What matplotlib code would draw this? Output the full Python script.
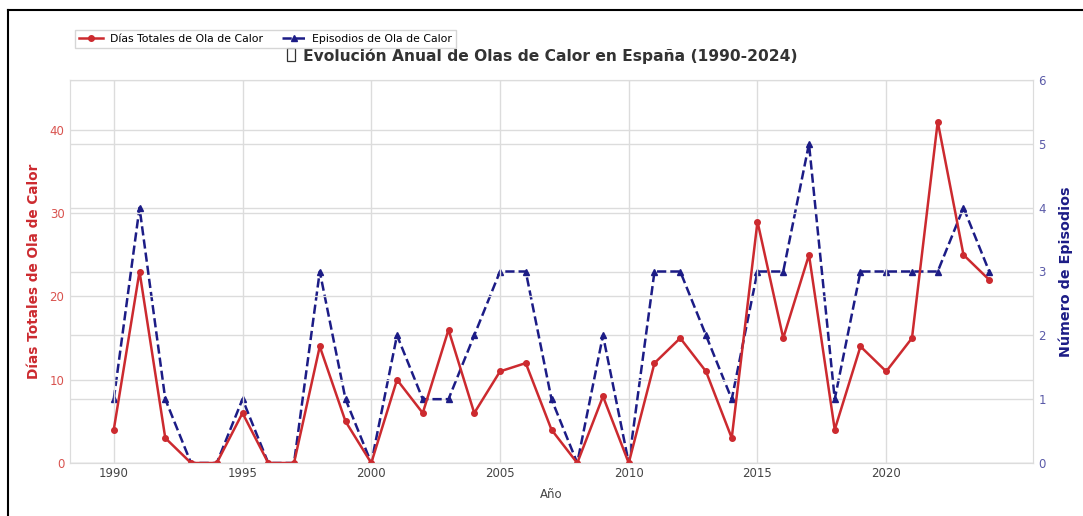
import matplotlib
matplotlib.use("Agg")
import matplotlib.pyplot as plt
from matplotlib.lines import Line2D
from matplotlib.patches import Rectangle

years = list(range(1990, 2025))
dias = [4, 23, 3, 0, 0, 6, 0, 0, 14, 5, 0, 10, 6, 16, 6, 11, 12, 4, 0, 8, 0,
        12, 15, 11, 3, 29, 15, 25, 4, 14, 11, 15, 41, 25, 22]
episodios = [1, 4, 1, 0, 0, 1, 0, 0, 3, 1, 0, 2, 1, 1, 2, 3, 3, 1, 0, 2, 0,
             3, 3, 2, 1, 3, 3, 5, 1, 3, 3, 3, 3, 4, 3]

RED = "#cc2a2f"
NAVY = "#1c1c86"
GRID = "#dcdcdc"

fig = plt.figure(figsize=(10.83, 5.16), dpi=100)
ax = fig.add_axes([70/1083, 1-463/516, (1033-70)/1083, (463-80)/516])
ax2 = ax.twinx()

ax.set_zorder(ax2.get_zorder() + 1)
ax.patch.set_visible(False)

l1, = ax.plot(years, dias, color=RED, lw=1.8, marker="o", markersize=4,
              label="Días Totales de Ola de Calor")
l2, = ax2.plot(years, episodios, color=NAVY, lw=1.8, ls="--", marker="^",
               markersize=4, label="Episodios de Ola de Calor")

ax.set_ylim(0, 46)
ax2.set_ylim(0, 6)
ax.set_xlim(1988.3, 2025.7)
ax.set_yticks([0, 10, 20, 30, 40])
ax2.set_yticks([0, 1, 2, 3, 4, 5, 6])
ax.set_xticks([1990, 1995, 2000, 2005, 2010, 2015, 2020])

for a in (ax, ax2):
    a.grid(True, color=GRID, lw=1)
    for s in a.spines.values():
        s.set_color(GRID)
    a.tick_params(length=0, labelsize=8.5)
ax.set_axisbelow(True)
ax2.set_axisbelow(True)
ax2.grid(False, axis="x")

ax.tick_params(axis="y", labelcolor="#d9534f", pad=4)
ax.tick_params(axis="x", labelcolor="#444444", pad=3)
ax2.tick_params(axis="y", labelcolor="#5a5aa8", pad=4)

ax.set_xlabel("Año", fontsize=8.5, color="#444444", labelpad=6)
ax.set_ylabel("Días Totales de Ola de Calor", fontsize=9.8, color=RED,
              fontweight="bold", labelpad=6)
ax2.set_ylabel("Número de Episodios", fontsize=10.3, color=NAVY,
               fontweight="bold", labelpad=9)

title = ax.set_title("   Evolución Anual de Olas de Calor en España (1990-2024)",
                     fontsize=11.2, fontweight="bold", color="#333333", pad=14)
title.set_x(0.49)

fig.legend(handles=[l1, l2], loc="upper left", ncol=2, fontsize=7.8,
           bbox_to_anchor=(70/1083, 1-25/516), frameon=True, fancybox=False,
           edgecolor="#cccccc", handlelength=2.2, columnspacing=1.8,
           borderpad=0.35, handletextpad=0.6)

# missing-glyph box (emoji not available in installed fonts) drawn as a shape
fig.canvas.draw()
bb = title.get_window_extent(fig.canvas.get_renderer())
W, H = fig.bbox.width, fig.bbox.height
bx = bb.x0 + 0.5
by = bb.y0 + 3
fig.add_artist(Rectangle((bx / W, by / H), 8 / W, 13 / H, fill=False,
                         edgecolor="#333333", lw=0.9,
                         transform=fig.transFigure))

fig.add_artist(Line2D([8/1083, 1.0], [1-10/516, 1-10/516], color="black",
                      lw=1.5, transform=fig.transFigure))
fig.add_artist(Line2D([8/1083, 8/1083], [0, 1-10/516], color="black",
                      lw=1.5, transform=fig.transFigure))

fig.savefig("out.png", dpi=100)
